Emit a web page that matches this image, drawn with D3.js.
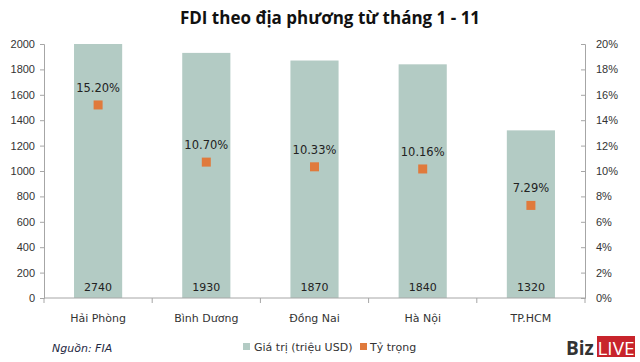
<!DOCTYPE html>
<html>
<head>
<meta charset="utf-8">
<script src="https://cdn.jsdelivr.net/npm/d3@7"></script>
<style>
body { margin: 0; background: #fff; }
svg { display: block; font-family: "DejaVu Sans", Tahoma, sans-serif; }
.axis text { font-size: 11px; fill: #333; }
.axis path, .axis line { stroke: #a6a6a6; }
</style>
</head>
<body>
<svg id="chart" width="640" height="362"></svg>
<script>
const provinces = ["Hải Phòng", "Bình  Dương", "Đồng Nai", "Hà Nội", "TP.HCM"];
const values = [2740, 1930, 1870, 1840, 1320];
const shares = [15.20, 10.70, 10.33, 10.16, 7.29];
const leftTicks = [0, 200, 400, 600, 800, 1000, 1200, 1400, 1600, 1800, 2000];
const rightTicks = [0, 2, 4, 6, 8, 10, 12, 14, 16, 18, 20];

const svg = d3.select('#chart');
const plotLeft = 44, plotRight = 585, plotTop = 44, plotBottom = 298;

const x = d3.scaleBand().domain(provinces).range([plotLeft, plotRight]).paddingInner(0.555).paddingOuter(0.2775);
const y = d3.scaleLinear().domain([0, 2000]).range([plotBottom, plotTop]).clamp(true);
const y2 = d3.scaleLinear().domain([0, 20]).range([plotBottom, plotTop]);

// title
svg.append('text')
    .attr('x', 330).attr('y', 24)
    .attr('text-anchor', 'middle')
    .style('font-family', '"Open Sans", sans-serif')
    .style('font-weight', 'bold')
    .style('font-size', '17px')
    .attr('fill', '#111')
    .text('FDI theo địa phương từ tháng 1 - 11');

// bars
svg.selectAll('.bar').data(provinces)
    .enter()
    .append('rect')
    .attr('class', 'bar')
    .attr('x', d => x(d))
    .attr('width', x.bandwidth())
    .attr('y', (d, i) => y(values[i]))
    .attr('height', (d, i) => plotBottom - y(values[i]))
    .attr('fill', '#b3cbc4');

// axes
svg.append('g').attr('class', 'axis')
    .attr('transform', `translate(${plotLeft},0)`)
    .call(d3.axisLeft(y).tickValues(leftTicks).tickSize(4).tickSizeOuter(4).tickPadding(5).tickFormat(d => d));

svg.append('g').attr('class', 'axis')
    .attr('transform', `translate(${plotRight},0)`)
    .call(d3.axisRight(y2).tickValues(rightTicks).tickSize(-4).tickSizeOuter(-4).tickPadding(11).tickFormat(d => d + '%'));

const xAxis = svg.append('g').attr('class', 'axis');
xAxis.append('line')
    .attr('x1', plotLeft).attr('x2', plotRight)
    .attr('y1', plotBottom).attr('y2', plotBottom)
    .attr('stroke', '#a6a6a6');
xAxis.selectAll('.xt').data(d3.range(provinces.length + 1))
    .enter()
    .append('line')
    .attr('x1', i => plotLeft + i * (plotRight - plotLeft) / provinces.length)
    .attr('x2', i => plotLeft + i * (plotRight - plotLeft) / provinces.length)
    .attr('y1', plotBottom).attr('y2', plotBottom + 5)
    .attr('stroke', '#a6a6a6');
xAxis.selectAll('.xl').data(provinces)
    .enter()
    .append('text')
    .attr('x', d => x(d) + x.bandwidth() / 2)
    .attr('y', 322)
    .attr('text-anchor', 'middle')
    .text(d => d);

// value labels
svg.selectAll('.val').data(provinces)
    .enter()
    .append('text')
    .attr('x', d => x(d) + x.bandwidth() / 2)
    .attr('y', 291)
    .attr('text-anchor', 'middle')
    .style('font-size', '11px')
    .attr('fill', '#222')
    .text((d, i) => values[i]);

// share markers
svg.selectAll('.mk').data(provinces)
    .enter()
    .append('rect')
    .attr('x', d => x(d) + x.bandwidth() / 2 - 4.5)
    .attr('y', (d, i) => y2(shares[i]) - 4.5)
    .attr('width', 9).attr('height', 9)
    .attr('fill', '#e07a3c');

svg.selectAll('.pct').data(provinces)
    .enter()
    .append('text')
    .attr('x', d => x(d) + x.bandwidth() / 2)
    .attr('y', (d, i) => y2(shares[i]) - 13)
    .attr('text-anchor', 'middle')
    .style('font-size', '11.5px')
    .attr('fill', '#222')
    .text((d, i) => shares[i].toFixed(2) + '%');

// footer
svg.append('text')
    .attr('x', 52).attr('y', 352)
    .style('font-size', '11px')
    .style('font-style', 'italic')
    .attr('fill', '#1f2a44')
    .text('Nguồn: FIA');

const legend = svg.append('g').style('font-size', '11px');
legend.append('rect').attr('x', 243).attr('y', 343).attr('width', 7).attr('height', 7).attr('fill', '#b3cbc4');
legend.append('text').attr('x', 254).attr('y', 351).attr('fill', '#333').text('Giá trị (triệu USD)');
legend.append('rect').attr('x', 360).attr('y', 343).attr('width', 7).attr('height', 7).attr('fill', '#e07a3c');
legend.append('text').attr('x', 370).attr('y', 351).attr('fill', '#333').text('Tỷ trọng');

// logo
const logo = svg.append('g');
logo.append('text').attr('x', 566).attr('y', 355)
    .style('font-family', '"Open Sans", sans-serif')
    .style('font-weight', 'bold').style('font-size', '19px')
    .attr('fill', '#333').text('Biz');
logo.append('rect').attr('x', 597).attr('y', 336).attr('width', 38).attr('height', 21).attr('fill', '#c8242b');
logo.append('text').attr('x', 616).attr('y', 355)
    .attr('text-anchor', 'middle')
    .style('font-family', '"Liberation Sans Narrow", "Open Sans", sans-serif')
    .style('font-size', '19px')
    .attr('fill', '#fff').text('LIVE');
</script>
</body>
</html>
